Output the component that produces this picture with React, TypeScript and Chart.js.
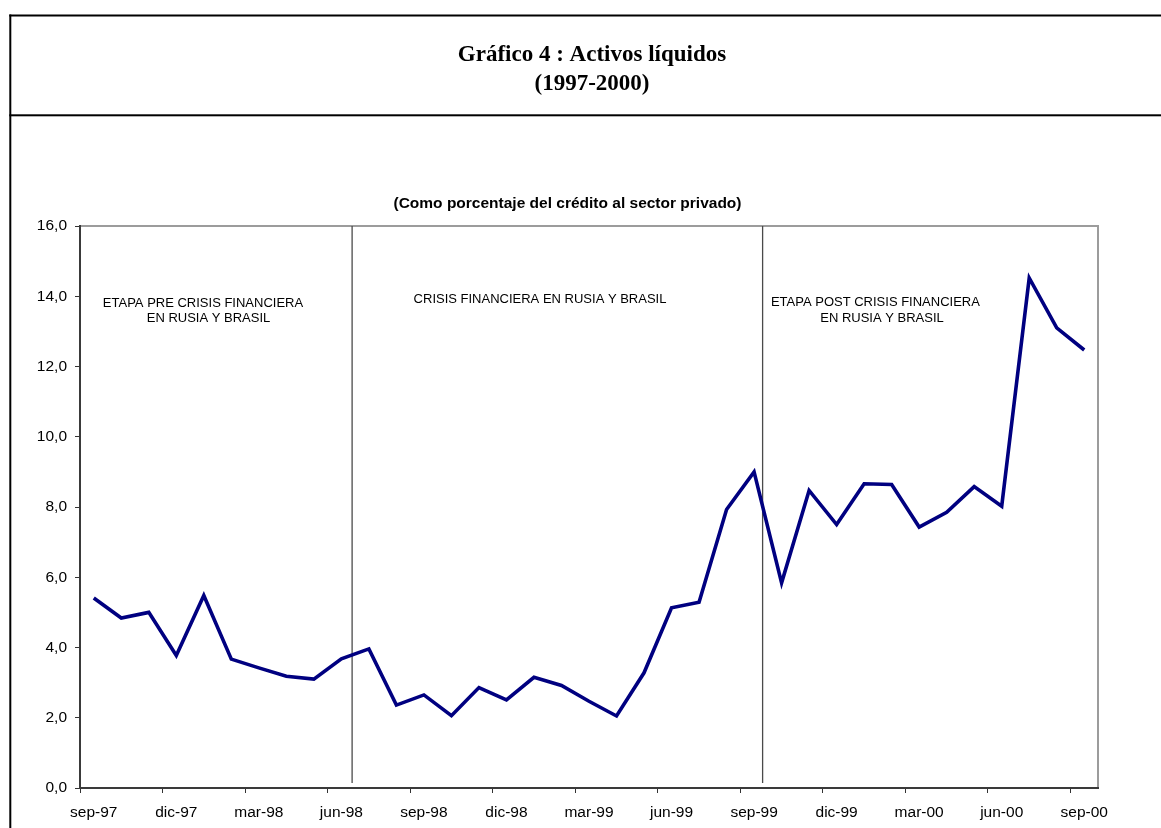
import React, { useEffect, useRef } from 'react';
import { Chart, registerables } from 'chart.js';

Chart.register(...registerables);

// ---------- data ----------
const MONTHS = [
  'sep-97', 'oct-97', 'nov-97', 'dic-97', 'ene-98', 'feb-98', 'mar-98', 'abr-98', 'may-98',
  'jun-98', 'jul-98', 'ago-98', 'sep-98', 'oct-98', 'nov-98', 'dic-98', 'ene-99', 'feb-99',
  'mar-99', 'abr-99', 'may-99', 'jun-99', 'jul-99', 'ago-99', 'sep-99', 'oct-99', 'nov-99',
  'dic-99', 'ene-00', 'feb-00', 'mar-00', 'abr-00', 'may-00', 'jun-00', 'jul-00', 'ago-00',
  'sep-00',
];

const LIQUID_ASSETS = [
  5.41, 4.84, 5.0, 3.77, 5.48, 3.67, 3.42, 3.18, 3.1,
  3.68, 3.96, 2.36, 2.65, 2.06, 2.86, 2.51, 3.15, 2.92,
  2.47, 2.05, 3.28, 5.13, 5.29, 7.93, 9.0, 5.84, 8.47,
  7.5, 8.66, 8.64, 7.43, 7.85, 8.58, 8.02, 14.52, 13.1,
  12.47,
];

const Y_MIN = 0;
const Y_MAX = 16;
const Y_STEP = 2;
const LABEL_EVERY = 3;

const TITLE_LINES = ['Gráfico 4 : Activos líquidos', '(1997-2000)'];
const SUBTITLE = '(Como porcentaje del crédito al sector privado)';

// phase boundaries, in category-index units
const PHASE_BREAKS = [9.39, 24.31];

// phase notes: text lines with anchor (category index, value)
const PHASE_NOTES = [
  { text: 'ETAPA PRE CRISIS FINANCIERA', at: 3.97, v: 13.69 },
  { text: 'EN RUSIA Y BRASIL', at: 4.17, v: 13.26 },
  { text: 'CRISIS FINANCIERA EN RUSIA Y BRASIL', at: 16.22, v: 13.8 },
  { text: 'ETAPA POST CRISIS FINANCIERA', at: 28.41, v: 13.72 },
  { text: 'EN RUSIA Y BRASIL', at: 28.65, v: 13.26 },
];

const SANS = '"Liberation Sans", Arial, sans-serif';
const SERIF = '"Liberation Serif", "Times New Roman", serif';

const decorPlugin = {
  id: 'decor',
  beforeDraw(chart: any) {
    const ctx = chart.ctx as CanvasRenderingContext2D;
    const W = chart.width;
    const H = chart.height;
    ctx.save();
    ctx.fillStyle = '#ffffff';
    ctx.fillRect(0, 0, W, H);
    // outer frame
    ctx.fillStyle = '#000000';
    ctx.fillRect(9.3, 14.5, W - 9.3, 2);
    ctx.fillRect(9.3, 114.3, W - 9.3, 2);
    ctx.fillRect(9.3, 14.5, 2, H - 14.5);
    // titles
    ctx.textAlign = 'center';
    ctx.textBaseline = 'alphabetic';
    ctx.font = `bold 23px ${SERIF}`;
    ctx.fillText(TITLE_LINES[0], 592, 61);
    ctx.fillText(TITLE_LINES[1], 592, 90);
    ctx.font = `bold 15.5px ${SANS}`;
    ctx.fillText(SUBTITLE, 567.5, 208);
    // plot frame (top and right)
    const { left, right, top, bottom } = chart.chartArea;
    ctx.strokeStyle = '#9c9c9c';
    ctx.lineWidth = 2;
    ctx.beginPath();
    ctx.moveTo(left, top);
    ctx.lineTo(right, top);
    ctx.lineTo(right, bottom);
    ctx.stroke();
    ctx.restore();
  },
  beforeDatasetsDraw(chart: any) {
    const ctx = chart.ctx as CanvasRenderingContext2D;
    const xs = chart.scales.x;
    const ys = chart.scales.y;
    const { top, bottom } = chart.chartArea;
    ctx.save();
    ctx.strokeStyle = '#4a4a4a';
    ctx.lineWidth = 1.3;
    PHASE_BREAKS.forEach((b) => {
      const px = xs.getPixelForValue(b);
      ctx.beginPath();
      ctx.moveTo(px, top);
      ctx.lineTo(px, bottom - 5);
      ctx.stroke();
    });
    ctx.fillStyle = '#000000';
    ctx.font = `13px ${SANS}`;
    ctx.textAlign = 'center';
    ctx.textBaseline = 'alphabetic';
    PHASE_NOTES.forEach((n) => {
      ctx.fillText(n.text, xs.getPixelForValue(n.at), ys.getPixelForValue(n.v));
    });
    ctx.restore();
  },
};

export default function App() {
  const canvasRef = useRef<HTMLCanvasElement | null>(null);

  useEffect(() => {
    if (!canvasRef.current) return;
    const tickColor = (c: any) =>
      typeof c.index === 'number' && c.index % LABEL_EVERY === 0 ? '#333333' : 'rgba(0,0,0,0)';
    const chart = new Chart(canvasRef.current, {
      type: 'line',
      data: {
        labels: MONTHS,
        datasets: [
          {
            label: 'Activos líquidos',
            data: LIQUID_ASSETS,
            borderColor: '#000080',
            backgroundColor: '#000080',
            borderWidth: 3.6,
            pointRadius: 0,
            pointHoverRadius: 0,
            tension: 0,
            borderJoinStyle: 'miter',
            borderCapStyle: 'butt',
            fill: false,
          },
        ],
      },
      options: {
        responsive: false,
        animation: false,
        devicePixelRatio: 1,
        events: [],
        layout: { padding: { left: 0, top: 226, right: 63, bottom: 0 } },
        plugins: {
          legend: { display: false },
          title: { display: false },
          tooltip: { enabled: false },
        },
        scales: {
          x: {
            type: 'category',
            offset: true,
            grid: {
              offset: true,
              drawOnChartArea: false,
              drawTicks: true,
              tickLength: 5,
              color: tickColor,
              tickColor: tickColor,
              lineWidth: 1,
            },
            border: { display: true, color: '#3a3a3a', width: 2 },
            ticks: {
              autoSkip: false,
              maxRotation: 0,
              minRotation: 0,
              padding: 10,
              color: '#000000',
              font: { family: SANS, size: 15.5 },
              callback: (_v: any, i: number) => (i % LABEL_EVERY === 0 ? MONTHS[i] : ''),
            },
            afterFit: (s: any) => {
              s.height = 40;
            },
          },
          y: {
            min: Y_MIN,
            max: Y_MAX,
            grid: {
              drawOnChartArea: false,
              drawTicks: true,
              tickLength: 5,
              color: '#333333',
              tickColor: '#333333',
              lineWidth: 1,
            },
            border: { display: true, color: '#3a3a3a', width: 2 },
            ticks: {
              stepSize: Y_STEP,
              padding: 8,
              color: '#000000',
              font: { family: SANS, size: 15.5 },
              callback: (v: any) => Number(v).toFixed(1).replace('.', ','),
            },
            afterFit: (s: any) => {
              s.width = 80;
            },
          },
        },
      },
      plugins: [decorPlugin],
    } as any);
    return () => chart.destroy();
  }, []);

  return (
    <div style={{ position: 'absolute', left: 0, top: 0, width: 1161, height: 828, overflow: 'hidden', background: '#fff' }}>
      <canvas ref={canvasRef} width={1161} height={828} style={{ display: 'block' }} />
    </div>
  );
}
